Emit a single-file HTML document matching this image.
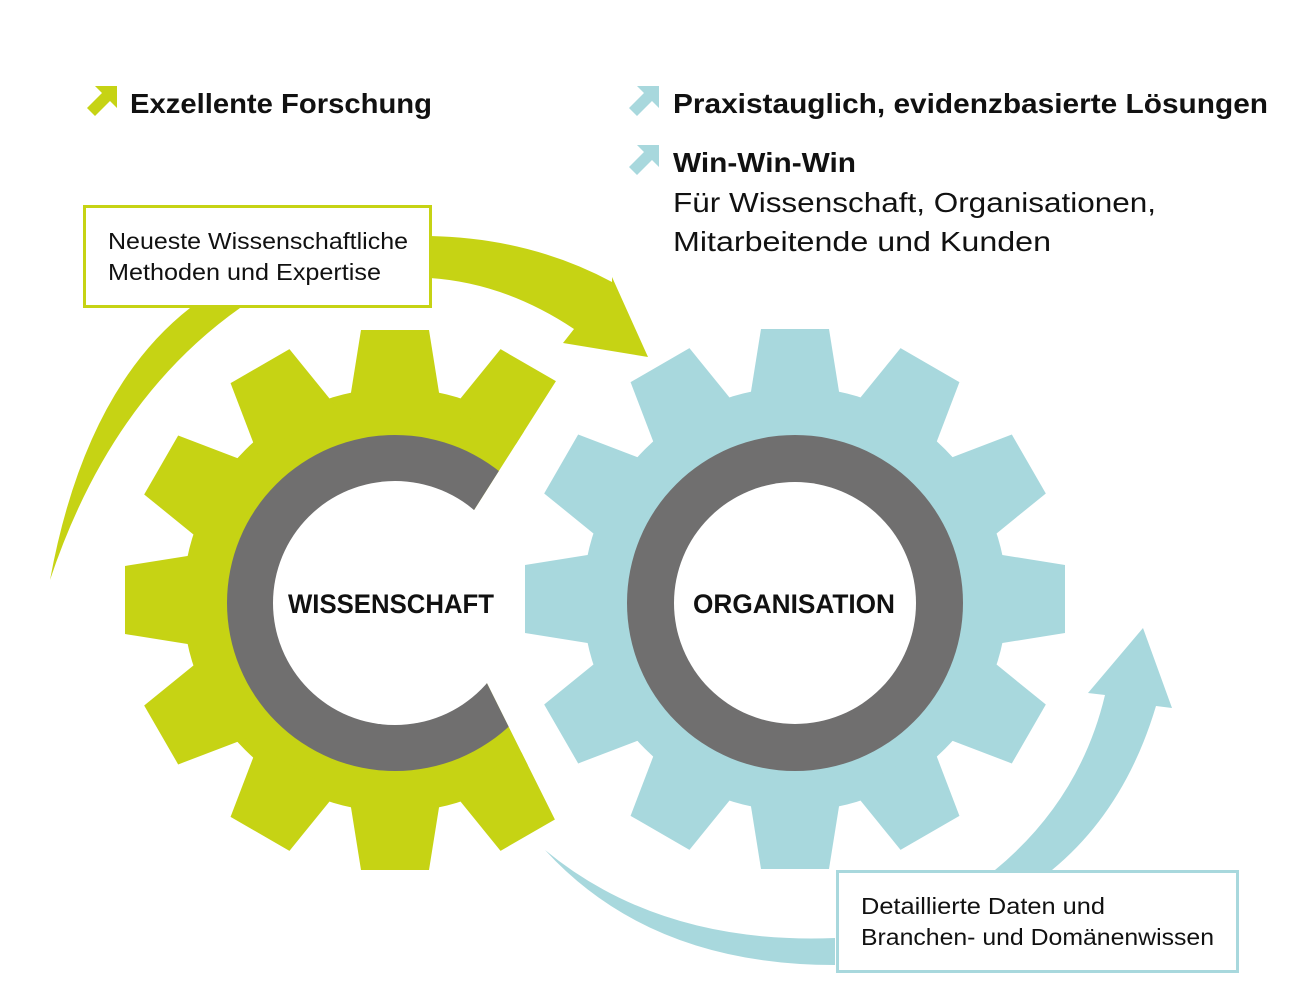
<!DOCTYPE html>
<html><head><meta charset="utf-8"><style>html,body{margin:0;padding:0;background:#fff}svg{display:block}</style></head>
<body>
<svg width="1316" height="1000" viewBox="0 0 1316 1000" xmlns="http://www.w3.org/2000/svg" font-family="'Liberation Sans', sans-serif">
<defs>
  <polygon id="tooth" points="-46,-195 46,-195 34,-270 -34,-270"/>
  <clipPath id="lc"><polygon points="0,200 671,200 415,603 447,603 600,910 0,910"/></clipPath>
  <path id="ic" d="M95,86 L117,86 L117,108 L110,101 L95,116 L87,108 L102,93 Z"/>
</defs>

<use href="#ic" fill="#c6d314"/>
<use href="#ic" fill="#a8d8dd" transform="translate(542,0)"/>
<use href="#ic" fill="#a8d8dd" transform="translate(542,59)"/>

<text x="130" y="113" font-size="28" font-weight="bold" fill="#111" textLength="302" lengthAdjust="spacingAndGlyphs">Exzellente Forschung</text>
<text x="673" y="113" font-size="28" font-weight="bold" fill="#111" textLength="595" lengthAdjust="spacingAndGlyphs">Praxistauglich, evidenzbasierte Lösungen</text>
<text x="673" y="172" font-size="28" font-weight="bold" fill="#111" textLength="183" lengthAdjust="spacingAndGlyphs">Win-Win-Win</text>
<text x="673" y="212" font-size="28" fill="#111" textLength="483" lengthAdjust="spacingAndGlyphs">Für Wissenschaft, Organisationen,</text>
<text x="673" y="251" font-size="28" fill="#111" textLength="378" lengthAdjust="spacingAndGlyphs">Mitarbeitende und Kunden</text>

<path d="M190,308 Q85,390 50,580 Q110,400 240,308 Z" fill="#c6d314"/>
<path d="M430,236 Q530,238 612,282 L612,277 L648,357 L563,343 L574,329 Q505,283 430,278 Z" fill="#c6d314"/>

<path d="M545,850 Q650,965 835,965 L835,938 Q660,945 545,850 Z" fill="#a8d8dd"/>
<path d="M995,870 Q1080,800 1105,695 L1088,693 L1143,628 L1172,708 L1156,706 Q1125,810 1052,870 Z" fill="#a8d8dd"/>

<g clip-path="url(#lc)">
  <g transform="translate(395,600)" fill="#c6d314">
    <circle r="212"/>
    <use href="#tooth"/><use href="#tooth" transform="rotate(30)"/><use href="#tooth" transform="rotate(60)"/>
    <use href="#tooth" transform="rotate(90)"/><use href="#tooth" transform="rotate(120)"/><use href="#tooth" transform="rotate(150)"/>
    <use href="#tooth" transform="rotate(180)"/><use href="#tooth" transform="rotate(210)"/><use href="#tooth" transform="rotate(240)"/>
    <use href="#tooth" transform="rotate(270)"/><use href="#tooth" transform="rotate(300)"/><use href="#tooth" transform="rotate(330)"/>
    <circle r="168" cy="3" fill="#706f6f"/>
  </g>
</g>
<circle cx="395" cy="603" r="122" fill="#fff"/>

<g transform="translate(795,599)" fill="#a8d8dd">
  <circle r="212"/>
  <use href="#tooth"/><use href="#tooth" transform="rotate(30)"/><use href="#tooth" transform="rotate(60)"/>
  <use href="#tooth" transform="rotate(90)"/><use href="#tooth" transform="rotate(120)"/><use href="#tooth" transform="rotate(150)"/>
  <use href="#tooth" transform="rotate(180)"/><use href="#tooth" transform="rotate(210)"/><use href="#tooth" transform="rotate(240)"/>
  <use href="#tooth" transform="rotate(270)"/><use href="#tooth" transform="rotate(300)"/><use href="#tooth" transform="rotate(330)"/>
  <circle r="168" cy="4" fill="#706f6f"/>
  <circle r="121" cy="4" fill="#fff"/>
</g>

<text x="391" y="613" font-size="27" font-weight="bold" fill="#111" text-anchor="middle" textLength="206" lengthAdjust="spacingAndGlyphs">WISSENSCHAFT</text>
<text x="794" y="613" font-size="27" font-weight="bold" fill="#111" text-anchor="middle" textLength="202" lengthAdjust="spacingAndGlyphs">ORGANISATION</text>

<rect x="84.5" y="206.5" width="346" height="100" fill="#fff" stroke="#c6d314" stroke-width="3"/>
<text x="108" y="249" font-size="23" fill="#111" textLength="300" lengthAdjust="spacingAndGlyphs">Neueste Wissenschaftliche</text>
<text x="108" y="280" font-size="23" fill="#111" textLength="273" lengthAdjust="spacingAndGlyphs">Methoden und Expertise</text>

<rect x="837.5" y="871.5" width="400" height="100" fill="#fff" stroke="#a8d8dd" stroke-width="3"/>
<text x="861" y="914" font-size="23" fill="#111" textLength="244" lengthAdjust="spacingAndGlyphs">Detaillierte Daten und</text>
<text x="861" y="945" font-size="23" fill="#111" textLength="353" lengthAdjust="spacingAndGlyphs">Branchen- und Domänenwissen</text>
</svg>
</body></html>
